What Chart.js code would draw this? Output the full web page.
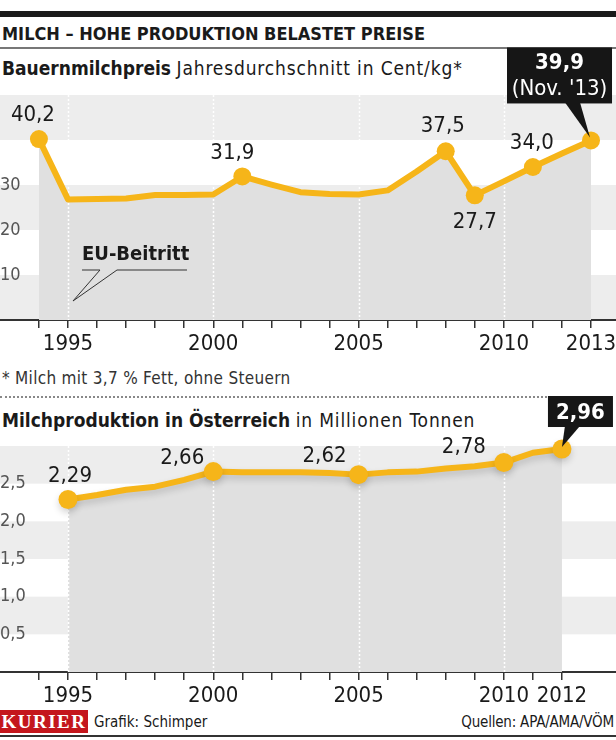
<!DOCTYPE html>
<html>
<head>
<meta charset="utf-8">
<script src="https://cdn.jsdelivr.net/npm/chart.js@4.4.1/dist/chart.umd.min.js"></script>
<style>
  body { margin: 0; width: 616px; height: 740px; background: #fff; position: relative; overflow: hidden;
         font-family: "DejaVu Sans Condensed", "DejaVu Sans", sans-serif; color: #1a1a1a; }
  .abs { position: absolute; white-space: nowrap; line-height: 1; }
  canvas { position: absolute; left: 0; }
  #topbar { left: 0; top: 11px; width: 616px; height: 6px; background: #1a1a1a; }
  #title { left: 2px; top: 25px; font-size: 18px; font-weight: bold; }
  #rule { left: 0; top: 47px; width: 616px; height: 2px; background: #777; }
  #sub1 { left: 2px; top: 59px; font-size: 19px; }
  #sub1 span, #sub2 span { letter-spacing: 0.85px; }
  #note { left: 2px; top: 370px; font-size: 17px; color: #333; letter-spacing: 0.3px; }
  #dots { left: 0; top: 396px; width: 547px; border-top: 2px dotted #888; }
  #sub2 { left: 2px; top: 411px; font-size: 19px; }
  #logo { left: 0; top: 710px; width: 88px; height: 23px; background: #c4161c; color: #fff;
          font-family: "Liberation Serif", serif; font-weight: bold; font-size: 19px; letter-spacing: 1.5px;
          text-align: center; line-height: 24px; }
  #credit { left: 94px; top: 715px; font-size: 15px; }
  #source { right: 2px; top: 715px; font-size: 15px; letter-spacing: -0.2px; }
  #baseline { left: 0; top: 735px; width: 616px; height: 2px; background: #333; }
</style>
</head>
<body>
<div class="abs" id="topbar"></div>
<div class="abs" id="title">MILCH – HOHE PRODUKTION BELASTET PREISE</div>
<div class="abs" id="rule"></div>
<div class="abs" id="sub1"><b>Bauernmilchpreis</b> <span>Jahresdurchschnitt in Cent/kg*</span></div>
<canvas id="priceChart" width="616" height="320" style="top:40px"></canvas>
<div class="abs" id="note">* Milch mit 3,7 % Fett, ohne Steuern</div>
<div class="abs" id="dots"></div>
<div class="abs" id="sub2"><b>Milchproduktion in Österreich</b> <span>in Millionen Tonnen</span></div>
<canvas id="prodChart" width="616" height="330" style="top:380px"></canvas>
<div class="abs" id="logo">KURIER</div>
<div class="abs" id="credit">Grafik: Schimper</div>
<div class="abs" id="source">Quellen: APA/AMA/VÖM</div>
<div class="abs" id="baseline"></div>

<script>
const FONT = "'DejaVu Sans Condensed', 'DejaVu Sans', sans-serif";
const YELLOW = "#f6b519";

// Bauernmilchpreis, Cent/kg
const priceYears  = [1994, 1995, 1996, 1997, 1998, 1999, 2000, 2001, 2002, 2003, 2004, 2005, 2006, 2007, 2008, 2009, 2010, 2011, 2012, 2013];
const priceValues = [40.2, 26.8, 26.9, 27.0, 27.8, 27.8, 27.9, 31.9, 30.1, 28.4, 28.0, 27.9, 28.8, 33.0, 37.5, 27.7, 30.8, 34.0, 37.0, 39.9];
const priceMarked = [1994, 2001, 2008, 2009, 2011, 2013];
const priceTicks  = [1994, 1995, 1996, 1997, 1998, 1999, 2000, 2001, 2002, 2003, 2004, 2005, 2006, 2007, 2008, 2009, 2010, 2011, 2012, 2013];
const priceTickLabels = [1995, 2000, 2005, 2010, 2013];
const priceYLabels = [10, 20, 30];
const priceBands  = [0, 20, 40];

// Milchproduktion, Mio. Tonnen
const prodYears  = [1995, 1996, 1997, 1998, 1999, 2000, 2001, 2002, 2003, 2004, 2005, 2006, 2007, 2008, 2009, 2010, 2011, 2012];
const prodValues = [2.29, 2.35, 2.42, 2.46, 2.55, 2.66, 2.65, 2.65, 2.65, 2.64, 2.62, 2.65, 2.66, 2.70, 2.73, 2.78, 2.91, 2.96];
const prodMarked = [1995, 2000, 2005, 2010, 2012];
const prodTicks  = [1994, 1995, 1996, 1997, 1998, 1999, 2000, 2001, 2002, 2003, 2004, 2005, 2006, 2007, 2008, 2009, 2010, 2011, 2012];
const prodTickLabels = [1995, 2000, 2005, 2010, 2012];
const prodYLabels = [0.5, 1.0, 1.5, 2.0, 2.5];
const prodBands  = [0.5, 1.5, 2.5];

const dottedYears = [1995, 2000, 2005, 2010];

const comma = (v, d) => v.toFixed(d).replace(".", ",");

function deco(o) {
  return {
    id: "deco",
    beforeDraw(chart) {
      const { ctx, chartArea: a, scales: { y } } = chart;
      ctx.save();
      ctx.fillStyle = "#ededed";
      o.bands.forEach(b => {
        const t = y.getPixelForValue(b + o.step), bt = y.getPixelForValue(b);
        ctx.fillRect(a.left, t, a.right - a.left, bt - t);
      });
      ctx.restore();
    },
    beforeDatasetsDraw(chart) {
      const { ctx, chartArea: a, scales: { x } } = chart;
      ctx.save();
      ctx.strokeStyle = "#fff";
      ctx.lineWidth = 1.5;
      ctx.setLineDash([2, 2]);
      dottedYears.forEach(yr => {
        const px = Math.round(x.getPixelForValue(yr)) + 0.5;
        ctx.beginPath(); ctx.moveTo(px, a.top); ctx.lineTo(px, a.bottom); ctx.stroke();
      });
      ctx.restore();
    },
    beforeDatasetDraw(chart) {
      if (!o.shadow) return;
      const ctx = chart.ctx;
      ctx.save();
      ctx.shadowColor = "rgba(0,0,0,0.16)";
      ctx.shadowBlur = 7;
      ctx.shadowOffsetY = 4;
    },
    afterDatasetDraw(chart) {
      if (o.shadow) chart.ctx.restore();
    },
    afterDatasetsDraw(chart) {
      const { ctx, chartArea: a, scales: { x, y } } = chart;
      ctx.save();
      ctx.textAlign = "center";
      ctx.textBaseline = "middle";
      ctx.fillStyle = "#1a1a1a";
      ctx.font = "22px " + FONT;
      o.marked.forEach(yr => {
        const off = o.labelPos[yr];
        if (!off) return;
        const v = o.values[o.years.indexOf(yr)];
        ctx.fillText(comma(v, o.dec), x.getPixelForValue(yr) + off[0], y.getPixelForValue(v) + off[1]);
      });

      // black callout on the last value
      const last = o.years[o.years.length - 1];
      const lv = o.values[o.values.length - 1];
      const px = x.getPixelForValue(last), py = y.getPixelForValue(lv);
      const c = o.callout;
      ctx.fillStyle = "#161616";
      ctx.fillRect(px + c.box[0], py + c.box[1], c.box[2], c.box[3]);
      ctx.beginPath();
      ctx.moveTo(px + c.base[0], py + c.box[1] + c.box[3] - 1);
      ctx.lineTo(px + c.base[1], py + c.box[1] + c.box[3] - 1);
      ctx.lineTo(px + c.tip[0], py + c.tip[1]);
      ctx.closePath();
      ctx.fill();
      ctx.fillStyle = "#fff";
      const cx = px + c.box[0] + c.box[2] / 2;
      ctx.font = "bold 22px " + FONT;
      ctx.fillText(comma(lv, o.dec), cx, py + c.lines[0]);
      if (c.extra) {
        ctx.font = "22px " + FONT;
        ctx.fillText(c.extra, cx, py + c.lines[1]);
      }

      if (o.annotate) o.annotate(ctx, x, y, a);
      ctx.restore();
    }
  };
}

function makeChart(id, o) {
  return new Chart(document.getElementById(id), {
    type: "line",
    data: {
      datasets: [{
        data: o.years.map((yr, i) => ({ x: yr, y: o.values[i] })),
        borderColor: YELLOW,
        borderWidth: 6,
        borderJoinStyle: "round",
        borderCapStyle: "round",
        tension: 0,
        fill: "origin",
        backgroundColor: "#e0e0e0",
        pointRadius: ctx => o.marked.includes(o.years[ctx.dataIndex]) ? o.dot : 0,
        pointBackgroundColor: YELLOW,
        pointBorderWidth: 0,
        clip: false
      }]
    },
    options: {
      responsive: false,
      animation: false,
      layout: { autoPadding: false, padding: { top: o.padTop, left: 0, right: 0, bottom: 0 } },
      plugins: {
        legend: { display: false },
        tooltip: { enabled: false },
        filler: { drawTime: "beforeDatasetsDraw" }
      },
      scales: {
        x: {
          type: "linear",
          min: 1992.66, max: 2013.86,
          z: 1,
          afterBuildTicks: s => { s.ticks = o.ticks.map(v => ({ value: v })); },
          afterFit: s => { s.height = o.axisH; s.paddingLeft = 0; s.paddingRight = 0; },
          ticks: {
            autoSkip: false, maxRotation: 0, padding: 3, color: "#1a1a1a",
            font: { family: FONT, size: 22 },
            callback: v => o.tickLabels.includes(v) ? String(v) : ""
          },
          grid: { display: true, drawOnChartArea: false, drawTicks: true, tickLength: 8, color: "#333", lineWidth: 1.5 },
          border: { display: true, color: "#333", width: 2 }
        },
        y: {
          min: 0, max: o.max,
          afterFit: s => { s.width = 0; },
          ticks: {
            stepSize: o.step, mirror: true, padding: 0, color: "#555",
            font: { family: FONT, size: 18 },
            callback: v => o.yLabels.includes(v) ? comma(v, o.dec - 1) : ""
          },
          grid: { display: false, drawTicks: false },
          border: { display: false }
        }
      }
    },
    plugins: [deco(o)]
  });
}

makeChart("priceChart", {
  years: priceYears, values: priceValues, marked: priceMarked,
  ticks: priceTicks, tickLabels: priceTickLabels, yLabels: priceYLabels,
  bands: priceBands, step: 10, max: 50, dec: 1, dot: 9,
  padTop: 55, axisH: 40,
  labelPos: { 1994: [-6, -24], 2001: [-10, -23], 2008: [-3, -25], 2009: [0, 27], 2011: [-1, -24] },
  callout: { box: [-84, -93, 105, 56], base: [-26, -11], tip: [-1, -3], lines: [-77, -51], extra: "(Nov. '13)" },
  annotate(ctx, x, y, a) {
    const px = x.getPixelForValue(1995);
    const ly = a.bottom - 50;
    ctx.font = "bold 20px " + FONT;
    ctx.fillStyle = "#1a1a1a";
    ctx.textAlign = "left";
    ctx.fillText("EU-Beitritt", px + 14, ly - 15);
    ctx.strokeStyle = "#333";
    ctx.lineWidth = 1;
    ctx.beginPath();
    ctx.moveTo(px + 14, ly);
    ctx.lineTo(px + 32, ly);
    ctx.lineTo(px + 5, ly + 31);
    ctx.lineTo(px + 49, ly);
    ctx.lineTo(px + 119, ly);
    ctx.stroke();
  }
});

makeChart("prodChart", {
  years: prodYears, values: prodValues, marked: prodMarked,
  ticks: prodTicks, tickLabels: prodTickLabels, yLabels: prodYLabels,
  bands: prodBands, step: 0.5, max: 3, dec: 2, dot: 9.5, shadow: true,
  padTop: 66, axisH: 38,
  labelPos: { 1995: [2, -23], 2000: [-31, -13], 2005: [-34, -18], 2010: [-40, -15] },
  callout: { box: [-14, -53, 65, 31], base: [3, 18], tip: [0, -2], lines: [-36] }
});
</script>
</body>
</html>
